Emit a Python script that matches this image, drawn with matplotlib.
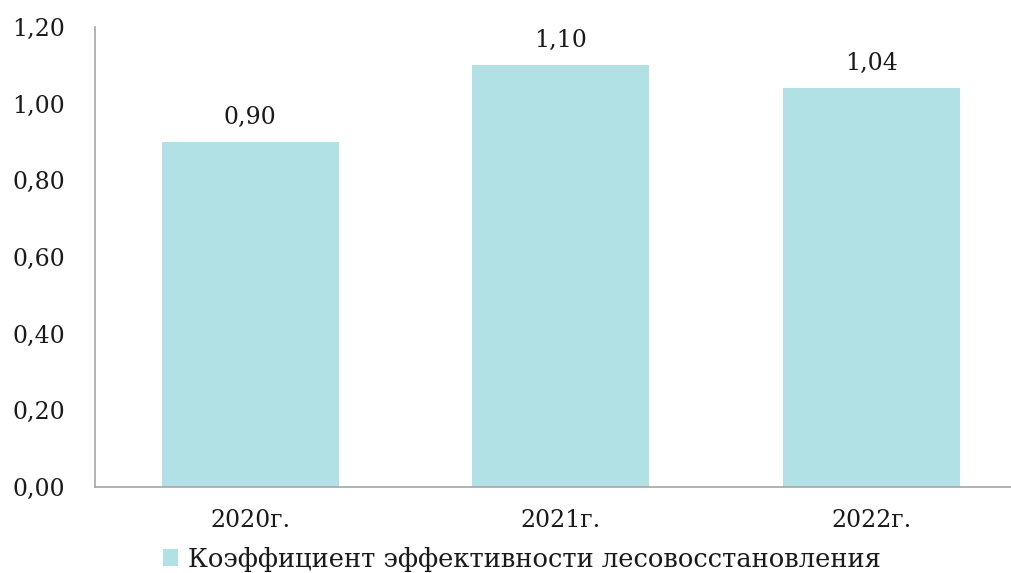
import matplotlib
matplotlib.use("Agg")
import matplotlib.pyplot as plt
from matplotlib.patches import Patch

categories = ["2020г.", "2021г.", "2022г."]
values = [0.90, 1.10, 1.04]
yticks = [0.0, 0.2, 0.4, 0.6, 0.8, 1.0, 1.2]
series_name = "Коэффициент эффективности лесовосстановления"

plt.rcParams['font.family'] = ['DejaVu Serif', 'Liberation Serif']

W, H = 1012, 573
fig = plt.figure(figsize=(W / 100, H / 100), dpi=100)
ax = fig.add_axes([95 / W, 1 - 487 / H, 931.5 / W, 460 / H])

color = "#b1e1e4"
fs = 17
x = list(range(len(categories)))
ax.bar(x, values, width=0.57, color=color, zorder=2)
for xi, v in zip(x, values):
    ax.text(xi, v + 0.064, f"{v:.2f}".replace(".", ","), ha="center", va="center", fontsize=fs, color="#1a1a1a")

ax.set_xlim(-0.5, len(categories) - 0.5)
ax.set_ylim(0, 1.2)
ax.set_yticks(yticks)
ax.set_yticklabels([f"{t:.2f}".replace(".", ",") for t in yticks], fontsize=fs, color="#1a1a1a")
ax.set_xticks(x)
ax.set_xticklabels(categories, fontsize=fs, color="#1a1a1a")
ax.tick_params(axis="y", length=0, pad=21.5)
ax.tick_params(axis="x", length=0, pad=15.5)
for s in ["top", "right"]:
    ax.spines[s].set_visible(False)
for s in ["left", "bottom"]:
    ax.spines[s].set_color("#a6a6a6")
    ax.spines[s].set_linewidth(1.2)

handles = [Patch(facecolor=color, edgecolor="none", label=series_name)]
fig.legend(handles=handles, loc="center", bbox_to_anchor=(522 / W, 1 - 559 / H), frameon=False,
           fontsize=18.5, handlelength=0.6, handleheight=0.6, handletextpad=0.4, labelcolor="#1a1a1a")

fig.savefig("out.png", dpi=100)
